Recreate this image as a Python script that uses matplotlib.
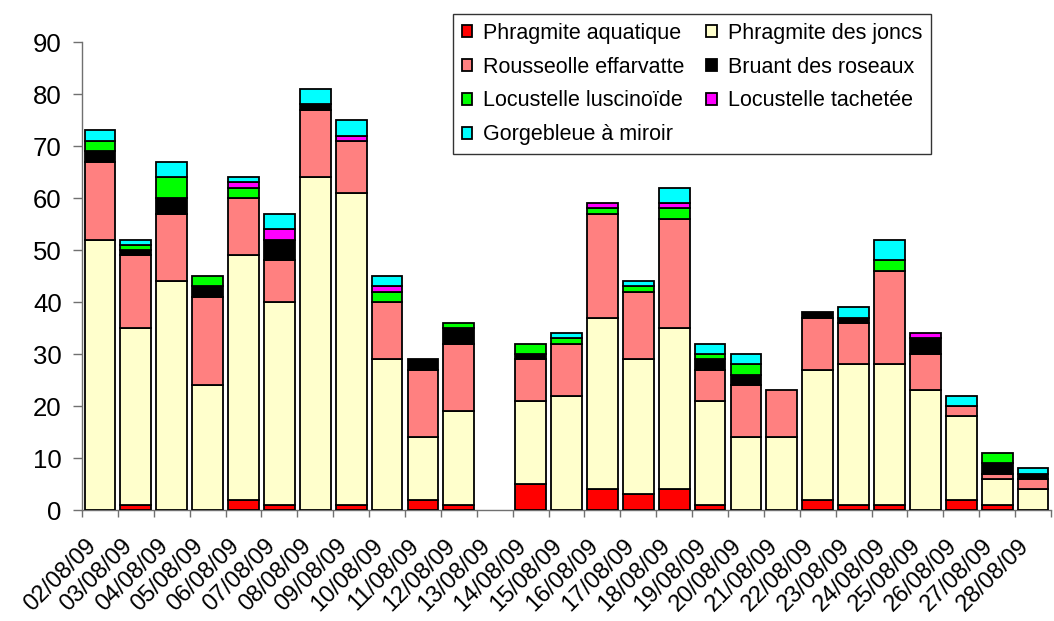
import matplotlib
matplotlib.use("Agg")
import matplotlib.pyplot as plt
import matplotlib.transforms as mtransforms
import numpy as np

# dates (one bar per day)
dates = [
    "02/08/09", "03/08/09", "04/08/09", "05/08/09", "06/08/09", "07/08/09",
    "08/08/09", "09/08/09", "10/08/09", "11/08/09", "12/08/09", "13/08/09",
    "14/08/09", "15/08/09", "16/08/09", "17/08/09", "18/08/09", "19/08/09",
    "20/08/09", "21/08/09", "22/08/09", "23/08/09", "24/08/09", "25/08/09",
    "26/08/09", "27/08/09", "28/08/09",
]

# captures per species
phragmite_aquatique = [0, 1, 0, 0, 2, 1, 0, 1, 0, 2, 1, 0, 5, 0, 4, 3, 4, 1, 0, 0, 2, 1, 1, 0, 2, 1, 0]
phragmite_joncs = [52, 34, 44, 24, 47, 39, 64, 60, 29, 12, 18, 0, 16, 22, 33, 26, 31, 20, 14, 14, 25, 27, 27, 23, 16, 5, 4]
rousserolle = [15, 14, 13, 17, 11, 8, 13, 10, 11, 13, 13, 0, 8, 10, 20, 13, 21, 6, 10, 9, 10, 8, 18, 7, 2, 1, 2]
bruant = [2, 1, 3, 2, 0, 4, 1, 0, 0, 2, 3, 0, 1, 0, 0, 0, 0, 2, 2, 0, 1, 1, 0, 3, 0, 2, 1]
locustelle_luscinoide = [2, 1, 4, 2, 2, 0, 0, 0, 2, 0, 1, 0, 2, 1, 1, 1, 2, 1, 2, 0, 0, 0, 2, 0, 0, 2, 0]
locustelle_tachetee = [0, 0, 0, 0, 1, 2, 0, 1, 1, 0, 0, 0, 0, 0, 1, 0, 1, 0, 0, 0, 0, 0, 0, 1, 0, 0, 0]
gorgebleue = [2, 1, 3, 0, 1, 3, 3, 3, 2, 0, 0, 0, 0, 1, 0, 1, 3, 2, 2, 0, 0, 2, 4, 0, 2, 0, 1]

series_names = [
    "Phragmite aquatique", "Phragmite des joncs", "Rousseolle effarvatte",
    "Bruant des roseaux", "Locustelle luscinoïde", "Locustelle tachetée",
    "Gorgebleue à miroir",
]
series_colors = ["#FF0000", "#FFFFCC", "#FF8080", "#000000", "#00FF00", "#FF00FF", "#00FFFF"]


def main() -> None:
    plt.rcParams["font.family"] = ["Liberation Sans", "DejaVu Sans"]

    series = [phragmite_aquatique, phragmite_joncs, rousserolle, bruant,
              locustelle_luscinoide, locustelle_tachetee, gorgebleue]

    fig = plt.figure(figsize=(10.54, 6.21), dpi=100)
    ax = fig.add_axes([82 / 1054, 111 / 621, (1051 - 82) / 1054, 468 / 621])

    x = np.arange(len(dates))
    bottom = np.zeros(len(dates))
    handles = []
    for name, color, values in zip(series_names, series_colors, series):
        vals = np.array(values, dtype=float)
        keep = vals > 0  # empty segments are not drawn
        bars = ax.bar(x[keep], vals[keep], width=0.86, bottom=bottom[keep],
                      color=color, edgecolor="black", linewidth=1.3,
                      label=name, zorder=3)
        handles.append(bars)
        bottom += vals

    ax.set_xlim(-0.5, len(dates) - 0.5)
    ax.set_ylim(0, 90)
    ax.set_yticks(range(0, 91, 10))

    for side in ("top", "right"):
        ax.spines[side].set_visible(False)
    for side in ("left", "bottom"):
        ax.spines[side].set_color("#707070")
        ax.spines[side].set_linewidth(1.0)

    ax.tick_params(axis="y", direction="out", length=6.5, width=1.0,
                   color="#707070", labelsize=18.5, pad=8)

    # boundary ticks without labels, labels at category centres
    ax.set_xticks(np.arange(-0.5, len(dates)), labels=[""] * (len(dates) + 1))
    ax.set_xticks(x, labels=dates, minor=True)
    ax.tick_params(axis="x", which="major", direction="out", length=5,
                   width=1.0, color="#707070")
    ax.tick_params(axis="x", which="minor", length=0, labelsize=17, pad=18)
    shift = mtransforms.ScaledTranslation(-15 / 100, 0, fig.dpi_scale_trans)
    for lab in ax.get_xticklabels(minor=True):
        lab.set_rotation(45)
        lab.set_ha("right")
        lab.set_va("top")
        lab.set_rotation_mode("anchor")
        lab.set_transform(lab.get_transform() + shift)

    # legend: two columns, filled row by row like the original
    order = [0, 2, 4, 6, 1, 3, 5]
    leg = ax.legend([handles[i] for i in order], [series_names[i] for i in order],
                    ncol=2, loc="upper left",
                    bbox_to_anchor=(453 / 1054, 1 - 14 / 621),
                    bbox_transform=fig.transFigure, borderaxespad=0,
                    fontsize=15.5, frameon=True, fancybox=False,
                    edgecolor="black", handlelength=0.5, handleheight=0.5,
                    handletextpad=0.5, columnspacing=1.0, labelspacing=0.6,
                    borderpad=0.4)
    leg.get_frame().set_linewidth(1.0)
    leg.set_zorder(5)

    fig.savefig("out.png", dpi=100)


if __name__ == "__main__":
    main()
